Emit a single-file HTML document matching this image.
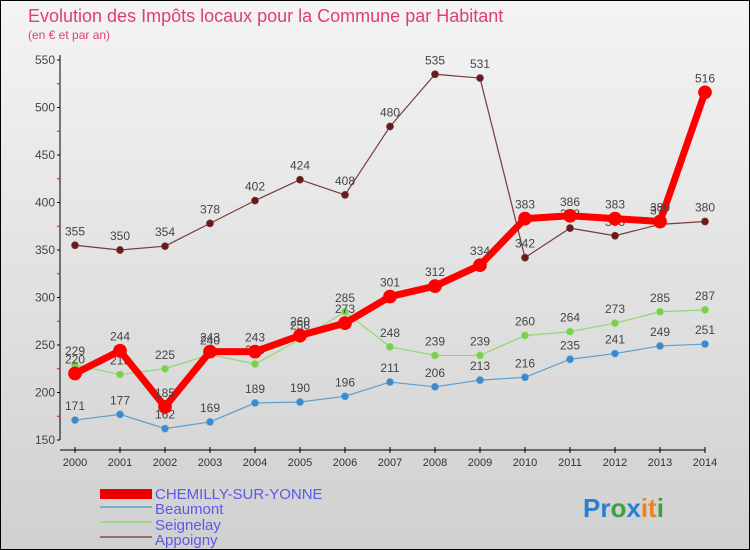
<!DOCTYPE html>
<html><head><meta charset="utf-8"><style>
body{margin:0}
#c{width:750px;height:550px;position:relative;background:linear-gradient(#f4f4f4,#d0d0d0);font-family:"Liberation Sans",sans-serif;box-sizing:border-box;border:1px solid #000;overflow:hidden}
</style></head><body>
<div id="c">
<svg id="s" width="750" height="550" style="position:absolute;left:-1px;top:-1px">
<text x="28" y="22" font-size="18" fill="#e0406a">Evolution des Impôts locaux pour la Commune par Habitant</text>
<text x="28" y="39" font-size="12" fill="#e0406a">(en € et par an)</text>
<g id="axes"></g><g id="series"></g>
<g font-size="15" fill="#5a5ae6">
<rect x="100" y="489" width="52" height="10" fill="#e00"/>
<text x="155" y="499">CHEMILLY-SUR-YONNE</text>
<rect x="100" y="506" width="52" height="2" fill="#7aaed0"/>
<text x="155" y="514">Beaumont</text>
<rect x="100" y="521" width="52" height="2" fill="#9ed88a"/>
<text x="155" y="530">Seignelay</text>
<rect x="100" y="536" width="52" height="2" fill="#9a6e6e"/>
<text x="155" y="545">Appoigny</text>
</g>
<text x="583" y="517" font-size="26" font-weight="bold"><tspan fill="#2a7fd0">Pr</tspan><tspan fill="#3aa040">o</tspan><tspan fill="#2a7fd0">x</tspan><tspan fill="#f08020">it</tspan><tspan fill="#3aa040">i</tspan></text>
</svg></div>
<script>
const years=[2000,2001,2002,2003,2004,2005,2006,2007,2008,2009,2010,2011,2012,2013,2014];
const chemilly=[220,244,185,243,243,260,273,301,312,334,383,386,383,380,516];
const beaumont=[171,177,162,169,189,190,196,211,206,213,216,235,241,249,251];
const seignelay=[229,219,225,240,230,256,285,248,239,239,260,264,273,285,287];
const appoigny=[355,350,354,378,402,424,408,480,535,531,342,373,365,377,380];
const yTicks=[150,200,250,300,350,400,450,500,550];
const NS="http://www.w3.org/2000/svg";
const X=i=>75+i*45, Y=v=>440-(v-150)*0.95;
function mk(p,t,a){const e=document.createElementNS(NS,t);for(const k in a)e.setAttribute(k,a[k]);p.appendChild(e);return e;}
const ax=document.getElementById('axes');
let l=mk(ax,'line',{x1:60,y1:55,x2:60,y2:440,stroke:'#000'});


l=mk(ax,'line',{x1:60,y1:450,x2:705,y2:450,stroke:'#000'});


yTicks.forEach(v=>{mk(ax,'line',{x1:57,y1:Y(v),x2:60,y2:Y(v),stroke:'#000'});
 if(v<550)mk(ax,'line',{x1:57,y1:Y(v+25),x2:60,y2:Y(v+25),stroke:'#f00'});
 const t=mk(ax,'text',{x:55,y:Y(v)+4,'text-anchor':'end','font-size':12,fill:'#444'});t.textContent=v;
 
 });
years.forEach((y,i)=>{mk(ax,'line',{x1:X(i),y1:447,x2:X(i),y2:453,stroke:'#000'});
 const t=mk(ax,'text',{x:X(i),y:466,'text-anchor':'middle','font-size':11,fill:'#333'});t.textContent=y;
 
 });
const sg=document.getElementById('series');
function draw(name,data,col,w,r,dot){
 const g=mk(sg,'g',{});
 
 
 mk(g,'polyline',{points:data.map((v,i)=>X(i)+','+Y(v)).join(' '),fill:'none',stroke:col,'stroke-width':w,'stroke-linejoin':'round'});
 data.forEach((v,i)=>{const c=mk(g,'circle',{cx:X(i),cy:Y(v),r:r,fill:dot,stroke:col,'stroke-width':0.7});
  
  
  const t=mk(g,'text',{x:X(i),y:Y(v)-10,'text-anchor':'middle','font-size':12,fill:'#444'});t.textContent=v;
  
  });
}
draw('appoigny',appoigny,'#7a3a3a',1.2,3.5,'#6a1a1a');
draw('beaumont',beaumont,'#5a9ed0',1.2,3.5,'#3a8ad0');
draw('seignelay',seignelay,'#90d870',1.2,3.5,'#7ad048');
draw('chemilly',chemilly,'#f00',7,6.5,'#f00');
</script></body></html>
